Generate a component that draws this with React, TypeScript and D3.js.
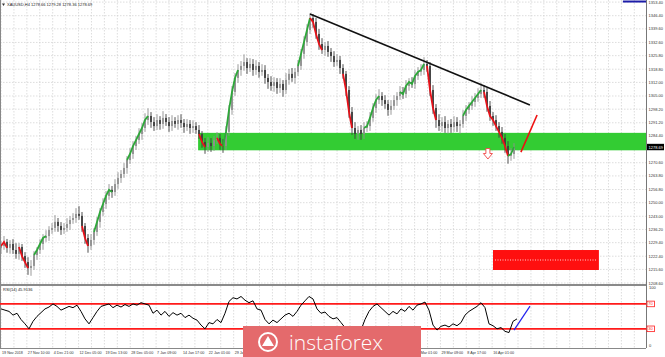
import React from 'react';
import * as d3 from 'd3';

const W = 665;
const H = 357;

// ---- price data (H4 bars, sampled) ----
const firstOpen = 1226.5;
const closes = [
  1227.7,1229.8,1226.7,1228.7,1225.6,1223.6,1227.2,1222.5,1219.4,1216.3,
  1217.4,1223.0,1225.6,1228.7,1231.8,1232.8,1235.9,1237.0,1240.1,1238.0,
  1235.9,1237.0,1239.0,1241.1,1242.1,1244.2,1243.2,1238.0,1231.8,1227.7,
  1230.8,1234.9,1240.1,1245.2,1249.3,1253.5,1256.6,1255.5,1259.6,1262.7,
  1264.8,1267.9,1272.0,1275.1,1279.2,1282.3,1285.4,1288.5,1292.6,1294.7,
  1291.6,1289.5,1292.6,1290.6,1293.7,1291.6,1289.5,1292.1,1290.6,1292.6,
  1291.1,1289.0,1290.6,1288.5,1289.5,1287.5,1285.4,1281.3,1278.7,1280.8,
  1279.2,1282.3,1283.4,1280.3,1279.2,1286.5,1297.8,1307.1,1314.3,1318.4,
  1320.5,1322.5,1319.4,1321.5,1318.4,1320.5,1317.4,1318.4,1314.3,1312.2,
  1310.2,1312.2,1309.1,1311.2,1308.1,1313.3,1316.4,1314.3,1317.4,1320.5,
  1326.7,1332.8,1339.0,1345.2,1343.2,1337.0,1331.8,1328.7,1330.8,1327.7,
  1325.6,1322.5,1323.6,1319.4,1316.4,1308.1,1296.8,1288.5,1285.4,1287.5,
  1285.4,1288.5,1289.5,1293.7,1298.8,1302.9,1305.0,1302.9,1300.9,1297.8,
  1299.9,1302.9,1305.0,1307.1,1306.0,1310.2,1312.2,1311.2,1315.3,1317.4,
  1318.4,1321.5,1320.5,1308.1,1298.8,1292.6,1289.5,1291.6,1288.5,1290.6,
  1289.0,1291.6,1289.5,1290.6,1294.7,1297.8,1299.9,1301.9,1304.0,1306.0,
  1308.1,1307.1,1299.9,1294.7,1292.6,1289.5,1286.5,1283.4,1279.2,1274.1,
  1275.1,1278.7,
];
const wickUp = [
  2.5,3,1.5,2,2.5,3.5,2,1.5,2,2.5,3,2,1.5,2.5,2,3,2,2.5,3.5,2,
  2,2.5,3,2,2.5,3,4,2,1.5,2,3,2,2.5,2,3,2.5,3,2,2.5,3,
  2,2.5,2,3,2.5,2,3,2.5,3.5,4,2,2.5,3,2,3.5,2,2.5,3,2,2.5,
  3,2,2.5,2,3,2,2.5,1.5,2,3,2.5,2,3,2,2.5,3,2.5,3,2.5,3,
  2.5,4,2,3,2.5,3,2,3,2.5,2,3,2.5,2,3,2,3.5,2.5,3,2,3,
  2.5,3,3,2.5,2,2,2.5,3,2,2.5,2,2.5,3,2,2,1.5,2,2.5,3,2,
  2.5,3,2.5,3,2.5,3,3.5,2,2.5,2,3,2.5,2,3,2.5,3,2,2.5,3,2.5,
  3,3.5,2,2,2.5,2,3,2.5,3,2,2.5,3,2.5,2,3,2.5,2,3,2.5,3,
  3.5,2.5,2,2.5,2,2.5,2,2.5,2,2.5,3,2,
];
const wickDn = [
  3,2,2.5,3,2,2.5,3,2.5,3,3.5,4,2,2.5,2,3,2,2.5,2,2,3,
  2.5,2,2,3,2,2.5,2,3,3,3.5,2,2.5,2,3,2,2.5,2,3,2,2.5,
  2.5,2,3,2,2.5,2,2,3,2,2.5,3,2.5,2,3,2.5,2,3,2.5,2,3,
  2.5,3,2,3,2.5,2,2.5,3,3.5,2.5,3,2.5,2,3,3.5,2,2,2.5,2,2.5,
  3,2.5,3,2,3,2.5,3,2,3,3.5,2.5,3,3,2.5,3.5,2,2.5,2,3,2,
  2,2.5,2,2,3,2.5,3,2,3,2.5,3,2.5,2,3,2.5,3,3,3.5,2.5,3,
  3,2.5,2,2.5,2,2.5,2,3,2.5,3,2.5,2,3,2,2.5,2,2.5,2,2.5,2,
  2,2.5,3,3,3,4,2.5,3,2.5,3,3,2.5,3,4,2,2.5,2,2,2.5,2,
  2,3,3,2.5,3,2.5,3,3,3.5,4,2.5,2.5,
];
// trend-coloured overlay: [fromBar, toBar, direction]
const trendSegs: [number, number, string][] = [
  [0, 2, 'down'], [6, 9, 'down'], [11, 15, 'up'], [27, 29, 'down'], [31, 37, 'up'],
  [42, 49, 'up'], [66, 68, 'down'], [72, 74, 'down'], [74, 79, 'up'],
  [99, 103, 'up'], [103, 107, 'down'], [114, 117, 'down'], [121, 126, 'up'],
  [133, 141, 'up'], [142, 145, 'down'], [154, 160, 'up'], [161, 166, 'down'],
  [166, 169, 'down'], [169, 171, 'up'],
];

// ---- RSI(14) ----
const rsiValues = [
  62,60,58,52,55,45,38,30,42,50,56,62,65,70,66,60,63,66,64,68,
  58,46,38,48,58,66,68,70,64,68,65,69,66,70,68,72,70,68,55,60,
  52,58,50,56,52,55,48,52,47,44,36,30,40,38,45,40,55,74,80,78,
  82,76,72,75,62,60,45,38,44,40,46,52,55,50,58,68,75,82,78,62,
  55,57,50,46,48,40,32,22,20,30,28,45,58,66,70,64,58,52,58,54,
  62,58,66,60,68,70,73,60,36,28,34,36,33,38,35,40,52,58,62,66,
  72,64,38,35,30,32,26,24,42,46,
];
const rsiLevels = [70, 30];
const rsiArrow = [{ j: 128.25, v: 28 }, { j: 132.25, v: 66.4 }];

// ---- axis labels ----
const priceTicks = [
  1208.60,1215.60,1222.40,1229.40,1236.20,1243.00,1250.00,1256.80,1263.80,1270.60,1277.60,
  1284.40,1291.20,1298.20,1305.00,1312.00,1318.80,1325.80,1332.60,1339.60,1346.40,1353.40,
];
const dateLabels = [
  '19 Nov 2018','27 Nov 10:00','4 Dec 21:00','12 Dec 05:00','19 Dec 13:00','28 Dec 05:00',
  '7 Jan 09:00','14 Jan 17:00','22 Jan 01:00','29 Jan 09:00','5 Feb 17:00','13 Feb 01:00',
  '20 Feb 09:00','27 Feb 17:00','7 Mar 01:00','14 Mar 09:00','21 Mar 01:00','29 Mar 09:00',
  '8 Apr 17:00','16 Apr 01:00',
];
const quote = { open: 1278.66, high: 1279.28, low: 1278.36, close: 1278.69 };
const rsiLast = 45.9136;

// ---- annotations (bar index / price) ----
const zone = { fromBar: 65.7, low: 1277.0, high: 1286.0 };
const resistance = [{ i: 103, p: 1347.3 }, { i: 176.3, p: 1300.4 }];
const projection = [{ i: 173.3, p: 1276.1 }, { i: 178.7, p: 1295.2 }];
const targetBox = { i0: 164, i1: 199.3, p0: 1215.3, p1: 1225.6 };
const downArrow = { i: 162.3, p: 1273.8 };
const topLine = { i0: 207.3, i1: 215, p: 1353.7 };

export default function App() {
  const plotRight = 646;
  const x = d3.scaleLinear().domain([0, 215]).range([1, plotRight]);
  const y = d3.scaleLinear().domain([1208.6, 1353.4]).range([283, 2.1]);
  const xr = d3.scaleLinear().domain([0, 128]).range([1, 513]);
  const yr = d3.scaleLinear().domain([0, 100]).range([347.5, 285.25]);
  const xd = d3.scaleLinear().domain([0, 1]).range([1, 26.85]);

  const bars = closes.map((c, i) => {
    const o = i === 0 ? firstOpen : closes[i - 1];
    const hi = Math.max(o, c) + wickUp[i];
    const lo = Math.min(o, c) - wickDn[i];
    return { i, o, c, hi, lo };
  });

  const line = d3.line<number>().x((d) => x(d)).y((d) => y(closes[d]));
  const rsiLine = d3.line<number>().x((_, j) => xr(j)).y((v) => yr(v));

  const vGrid: number[] = [];
  for (let m = 0; xd(m / 2) < plotRight; m++) vGrid.push(xd(m / 2));

  const grid = { stroke: '#cfcfcf', strokeWidth: 0.7, strokeDasharray: '1.5,1.5' };
  const font = 'Liberation Sans, Arial, sans-serif';
  const curY = y(quote.close);
  const wm = { x0: 243, x1: 421, y0: 326 };
  // labels entirely hidden behind the watermark are not visible in the reference
  const visibleDates = dateLabels
    .map((d, k) => ({ d, k, lx: xd(k) + 1 }))
    .filter((o) => !(o.lx > wm.x0 && o.lx + 22 < wm.x1));

  return (
    <svg width={W} height={H} style={{ position: 'absolute', left: 0, top: 0, background: '#fff' }}
      fontFamily={font}>
      <defs>
        <clipPath id="main"><rect x={0} y={0} width={plotRight} height={284} /></clipPath>
        <clipPath id="rsi"><rect x={0} y={286} width={plotRight} height={62} /></clipPath>
      </defs>

      {/* grids */}
      {vGrid.map((gx, k) => (
        <g key={'vg' + k}>
          <line x1={gx} x2={gx} y1={0} y2={284} {...grid} />
          <line x1={gx} x2={gx} y1={286} y2={348} {...grid} />
        </g>
      ))}
      {priceTicks.map((t) => (
        <line key={'hg' + t} x1={0} x2={plotRight} y1={y(t)} y2={y(t)} {...grid} />
      ))}

      <g clipPath="url(#main)">
        {/* support zone */}
        <rect x={x(zone.fromBar)} y={y(zone.high)} width={plotRight - x(zone.fromBar)}
          height={y(zone.low) - y(zone.high)} fill="#33cc33" />
        {/* candles */}
        {bars.map((b) => {
          const col = b.c >= b.o ? '#8f8f8f' : '#3c3c3c';
          const top = y(Math.max(b.o, b.c));
          const bot = y(Math.min(b.o, b.c));
          return (
            <g key={'b' + b.i}>
              <line x1={x(b.i)} x2={x(b.i)} y1={y(b.hi)} y2={y(b.lo)} stroke={col} strokeWidth={0.9} />
              <rect x={x(b.i) - 0.9} y={top} width={1.8} height={Math.max(1, bot - top)} fill={col} />
            </g>
          );
        })}
        {/* trend overlay */}
        {trendSegs.map(([a, b, dir], k) => (
          <path key={'ts' + k} d={line(d3.range(a, b + 1)) || ''} fill="none"
            stroke={dir === 'up' ? '#2ea83a' : '#e8121a'} strokeWidth={1.8} />
        ))}
        {/* resistance line */}
        <line x1={x(resistance[0].i)} y1={y(resistance[0].p)} x2={x(resistance[1].i)} y2={y(resistance[1].p)}
          stroke="#111" strokeWidth={1.6} />
        {/* projection */}
        <line x1={x(projection[0].i)} y1={y(projection[0].p)} x2={x(projection[1].i)} y2={y(projection[1].p)}
          stroke="#ee1111" strokeWidth={1.6} />
        {/* down arrow */}
        <path transform={`translate(${x(downArrow.i)},${y(downArrow.p)})`}
          d="M-2,-8 L2,-8 L2,-3 L4.5,-3 L0,2.5 L-4.5,-3 L-2,-3 Z" fill="#fff" stroke="#f04545" strokeWidth={0.9} />
        {/* target box */}
        <rect x={x(targetBox.i0)} y={y(targetBox.p1)} width={x(targetBox.i1) - x(targetBox.i0)}
          height={y(targetBox.p0) - y(targetBox.p1)} fill="#ff0f0f" />
        <line x1={x(targetBox.i0) + 2} x2={x(targetBox.i1) - 2}
          y1={y((targetBox.p0 + targetBox.p1) / 2)} y2={y((targetBox.p0 + targetBox.p1) / 2)}
          stroke="#fff" strokeWidth={0.8} strokeDasharray="1,1.5" />
        <line x1={x(topLine.i0)} x2={x(topLine.i1)} y1={y(topLine.p)} y2={y(topLine.p)}
          stroke="#1c1ca8" strokeWidth={2} />
      </g>

      {/* title */}
      <path d="M2,3.5 L5,3.5 L3.5,6 Z" fill="#333" />
      <text x={7} y={6.3} fontSize={4} fill="#222">
        {`XAUUSD,H4  ${quote.open.toFixed(2)} ${quote.high.toFixed(2)} ${quote.low.toFixed(2)} ${quote.close.toFixed(2)}`}
      </text>

      {/* frames */}
      <line x1={0.5} x2={0.5} y1={0} y2={348} stroke="#888" strokeWidth={1} />
      <line x1={plotRight + 0.5} x2={plotRight + 0.5} y1={0} y2={348} stroke="#777" strokeWidth={1} />
      <line x1={0} x2={plotRight} y1={285} y2={285} stroke="#8a8a8a" strokeWidth={2} />
      <line x1={0} x2={plotRight} y1={348.5} y2={348.5} stroke="#888" strokeWidth={1} />

      {/* price axis */}
      {priceTicks.filter((t) => Math.abs(y(t) - curY) > 7).map((t) => (
        <text key={'pl' + t} x={648.5} y={y(t) + 1.5} fontSize={4} fill="#333">{t.toFixed(2)}</text>
      ))}
      <rect x={647} y={curY - 3.2} width={17} height={6.4} fill="#000" />
      <text x={648.5} y={curY + 1.5} fontSize={4} fill="#fff">{quote.close.toFixed(2)}</text>

      {/* RSI panel */}
      <g clipPath="url(#rsi)">
        {rsiLevels.map((lv) => (
          <line key={'lv' + lv} x1={0} x2={plotRight} y1={yr(lv)} y2={yr(lv)} stroke="#ff1a1a" strokeWidth={1.8} />
        ))}
        <path d={rsiLine(rsiValues) || ''} fill="none" stroke="#000" strokeWidth={1} />
        <line x1={xr(rsiArrow[0].j)} y1={yr(rsiArrow[0].v)} x2={xr(rsiArrow[1].j)} y2={yr(rsiArrow[1].v)}
          stroke="#2222ee" strokeWidth={1.2} />
      </g>
      <text x={3} y={291} fontSize={4} fill="#222">{`RSI(14) ${rsiLast}`}</text>
      <text x={649} y={289} fontSize={4} fill="#333">100</text>
      <text x={649} y={347} fontSize={4} fill="#333">0</text>
      {rsiLevels.map((lv) => (
        <g key={'lb' + lv}>
          <rect x={647} y={yr(lv) - 2.8} width={7.5} height={5.6} fill="#fff" stroke="#ff1a1a" strokeWidth={0.8} />
          <text x={648.3} y={yr(lv) + 1.5} fontSize={4} fill="#ff1a1a">{lv}</text>
        </g>
      ))}

      {/* date axis */}
      {visibleDates.map((o) => (
        <text key={'dl' + o.k} x={o.lx} y={353.5} fontSize={3.7} fill="#333">{o.d}</text>
      ))}

      {/* watermark */}
      <rect x={wm.x0} y={wm.y0} width={wm.x1 - wm.x0} height={H - wm.y0} fill="#e46a6c" />
      <g fill="#fff">
        <circle cx={268} cy={342} r={9} fill="none" stroke="#fff" strokeWidth={2} />
        <path d="M262,346 L268,336 L274,346 Z" />
      </g>
      <text x={289} y={350} fontSize={21} fill="#fff" fontFamily="Open Sans, Lato, sans-serif" fontWeight={300}>instaforex</text>
    </svg>
  );
}
